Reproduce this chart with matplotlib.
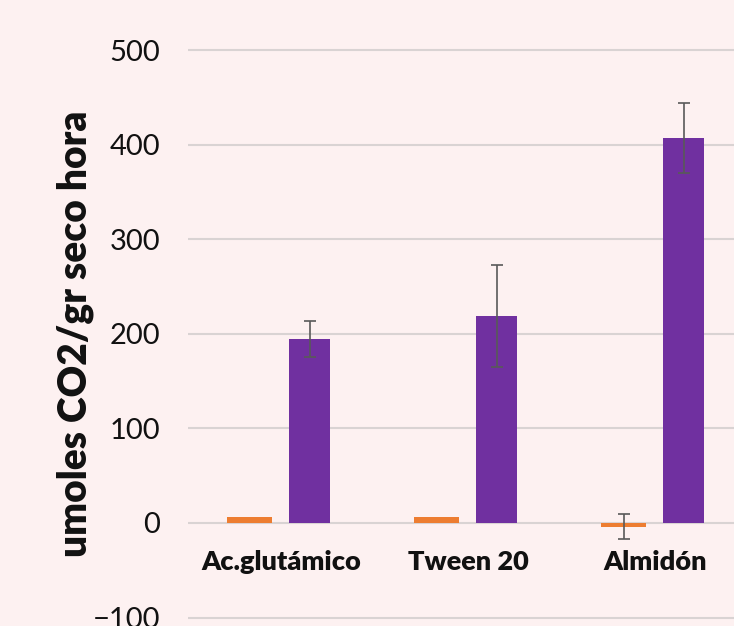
import numpy as np
import matplotlib.pyplot as plt

# Tasa respiratoria por sustrato
categorias = ['Ac.glutámico', 'Tween 20', 'Almidón']
control = [6, 6, -4]
control_err = [0, 0, 13]
tratamiento = [195, 219, 407]
tratamiento_err = [19, 54, 37]

fondo = '#FDF1F1'
plt.rcParams['font.family'] = ['Lato', 'DejaVu Sans']

fig = plt.figure(figsize=(7.34, 6.26), dpi=100, facecolor=fondo)
ax = fig.add_axes([0.2561, 0.0, 0.7439, 1.0])
ax.set_facecolor(fondo)

x = np.arange(len(categorias))
ancho = 0.24
sep = 0.16

err_kw = dict(ecolor='#595959', elinewidth=1.2, capsize=4.5, capthick=1.2)
ax.bar(x - sep, control, ancho, color='#ED7D31', zorder=3,
       yerr=[e if e else np.nan for e in control_err], error_kw=err_kw)
ax.bar(x + sep, tratamiento, ancho * 0.93, color='#7030A0', zorder=3,
       yerr=tratamiento_err, error_kw=err_kw)

ax.set_xlim(-0.49, 2.43)
ax.set_ylim(-108.9, 552.9)
ax.set_yticks(np.arange(-100, 501, 100))
ax.yaxis.grid(True, color='#D9D3D3', linewidth=1.5, zorder=0)
ax.set_xticks([])
ax.tick_params(axis='y', length=0, pad=20, labelsize=21, labelcolor='#111111')
for s in ax.spines.values():
    s.set_visible(False)

# etiquetas de categoría bajo la línea de cero
for xi, cat in zip(x, categorias):
    ax.text(xi + 0.01, -41, cat, ha='center', va='center', fontsize=19.5,
            fontweight='heavy', color='#111111')

fig.text(0.103, 0.467, 'umoles CO2/gr seco hora', rotation=90, ha='center',
         va='center', fontsize=28, fontweight='heavy', color='#111111')

fig.savefig('out.png', dpi=100, facecolor=fondo)
